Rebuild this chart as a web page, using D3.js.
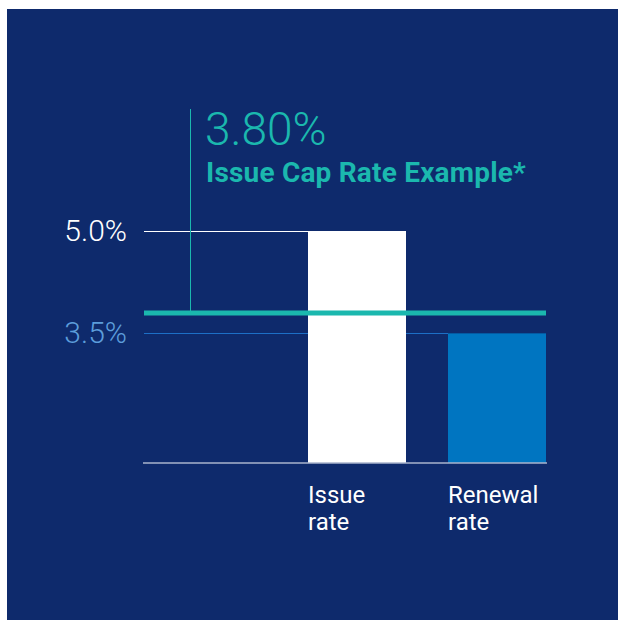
<!DOCTYPE html>
<html><head><meta charset="utf-8">
<script src="https://cdn.jsdelivr.net/npm/d3@7"></script>
<style>html,body{margin:0;padding:0;background:#fff;}svg{display:block;}</style>
</head><body>
<script>
// Data
const categories = [["Issue","rate"],["Renewal","rate"]];
const values = [5.0, 3.5];
const tickValues = [5.0, 3.5];
const tickLabels = ["5.0%","3.5%"];
const capRate = 3.80;
const capLabel = "3.80%";
const capTitle = "Issue Cap Rate Example*";

const W = 618, H = 620;
const navy = "#0e2a6c", teal = "#1bb8ae", blue = "#0075c1";
const svg = d3.select("body").append("svg").attr("width", W).attr("height", H);
svg.append("rect").attr("x",7).attr("y",9).attr("width",W-7).attr("height",H-9).attr("fill",navy);

const x0 = 144, x1 = 546;
const y = d3.scaleLinear().domain([1.6, 5.0]).range([463, 231]);
const x = d3.scaleBand().domain(d3.range(categories.length)).range([308, 546]).paddingInner(42 / 140).paddingOuter(0);
const bw = x.bandwidth();

const font = "Roboto, 'Liberation Sans', sans-serif";

// gridlines
const gridColors = ["#ffffff", "#1d6fc6"];
const labelColors = ["#ffffff", "#5c9ddb"];
tickValues.forEach((v, i) => {
  const yy = Math.round(y(v)) + 0.5;
  svg.append("line").attr("x1", x0).attr("x2", x(i)).attr("y1", yy).attr("y2", yy)
    .attr("stroke", gridColors[i]).attr("stroke-width", 1);
  svg.append("text").attr("x", 127).attr("y", y(v) + 10).attr("text-anchor","end")
    .attr("font-family", font).attr("font-weight", 300).attr("font-size", 30)
    .attr("fill", labelColors[i]).text(tickLabels[i]);
});

// bars
const barColors = ["#ffffff", blue];
svg.selectAll("rect.bar").data(values).enter().append("rect").attr("class","bar")
  .attr("x", (d,i) => x(i)).attr("width", bw)
  .attr("y", d => y(d)).attr("height", d => y.range()[0] - y(d))
  .attr("fill", (d,i) => barColors[i]);

// baseline
svg.append("line").attr("x1", x0 - 1).attr("x2", x1 + 1).attr("y1", 463).attr("y2", 463)
  .attr("stroke", "#aab4cc").attr("stroke-width", 1.5);

// cap line
svg.append("line").attr("x1", x0).attr("x2", x1).attr("y1", y(capRate)).attr("y2", y(capRate))
  .attr("stroke", teal).attr("stroke-width", 5);
svg.append("line").attr("x1", 190.5).attr("x2", 190.5).attr("y1", 109).attr("y2", y(capRate))
  .attr("stroke", teal).attr("stroke-width", 1);
svg.append("text").attr("x", 205).attr("y", 145).attr("font-family", font).attr("font-weight", 300)
  .attr("font-size", 46).attr("fill", teal).text(capLabel);
svg.append("text").attr("x", 206).attr("y", 182).attr("font-family", font).attr("font-weight", 700)
  .attr("font-size", 28).attr("fill", teal).attr("letter-spacing", 0.2).text(capTitle);

// category labels
categories.forEach((c, i) => {
  const t = svg.append("text").attr("x", x(i)).attr("y", 503).attr("font-family", font)
    .attr("font-size", 24).attr("fill", "#ffffff");
  c.forEach((line, j) => t.append("tspan").attr("x", x(i)).attr("dy", j ? 27 : 0).text(line));
});
</script>
</body></html>
